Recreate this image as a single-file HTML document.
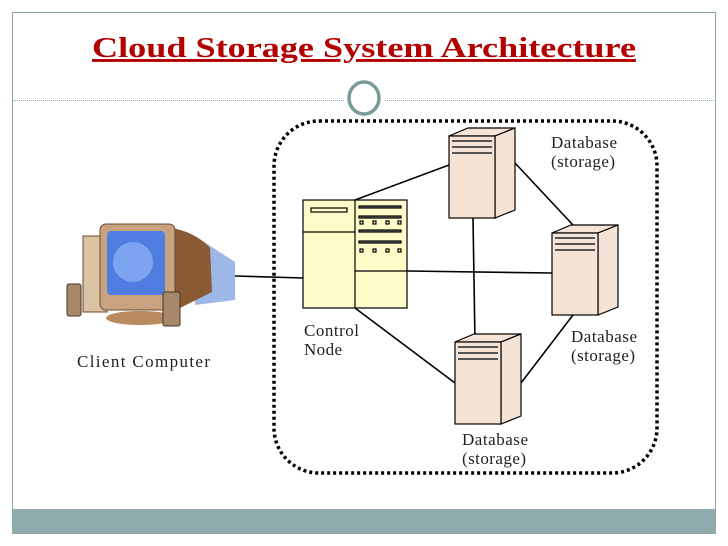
<!DOCTYPE html><html><head><style>body{margin:0;background:#fff}svg{display:block}text{font-family:"Liberation Serif",serif}</style></head><body>
<svg width="728" height="546" viewBox="0 0 728 546">
<rect x="12.5" y="12.5" width="703" height="521" fill="#fff" stroke="#8aa5a5"/>
<rect x="13" y="509" width="702" height="24" fill="#8eacac"/>
<text x="92" y="57" textLength="544" lengthAdjust="spacingAndGlyphs" font-size="29" font-weight="bold" fill="#b30000" text-decoration="underline">Cloud Storage System Architecture</text>
<line x1="13" y1="100.5" x2="344" y2="100.5" stroke="#8aa5a5" stroke-dasharray="1,1"/>
<line x1="385" y1="100.5" x2="715" y2="100.5" stroke="#8aa5a5" stroke-dasharray="1,1"/>
<ellipse cx="364" cy="98" rx="15" ry="16" fill="#fff" stroke="#7a9a9a" stroke-width="3.5"/>
<rect x="274" y="121" width="383" height="352" rx="45" fill="none" stroke="#000" stroke-width="3.5" stroke-dasharray="3,3"/>
<g stroke="#000" stroke-width="1.6">
<line x1="235" y1="276" x2="303" y2="278"/>
<line x1="355" y1="200" x2="449" y2="165"/>
<line x1="407" y1="271" x2="552" y2="273"/>
<line x1="355" y1="308" x2="455" y2="383"/>
<line x1="473" y1="218" x2="475" y2="342"/>
<line x1="515" y1="163" x2="573" y2="225"/>
<line x1="573" y1="315" x2="521" y2="383"/>
</g>
<g stroke="#000" stroke-width="1.2" fill="#fdfbc8">
<rect x="303" y="200" width="104" height="108"/>
<line x1="355" y1="200" x2="355" y2="308"/>
<line x1="303" y1="232" x2="355" y2="232"/>
<line x1="355" y1="271" x2="407" y2="271"/>
<rect x="311" y="208" width="36" height="4"/>
<rect x="359" y="206" width="42" height="2" fill="#777"/>
<rect x="359" y="216" width="42" height="2" fill="#777"/>
<rect x="359" y="230" width="42" height="2" fill="#777"/>
<rect x="359" y="241" width="42" height="2" fill="#777"/>
<rect x="360" y="221" width="3" height="3"/><rect x="373" y="221" width="3" height="3"/><rect x="386" y="221" width="3" height="3"/><rect x="398" y="221" width="3" height="3"/>
<rect x="360" y="249" width="3" height="3"/><rect x="373" y="249" width="3" height="3"/><rect x="386" y="249" width="3" height="3"/><rect x="398" y="249" width="3" height="3"/>
</g>
<g id="s" stroke="#000" stroke-width="1.2" fill="#f5e4d6">
<polygon points="449,136 495,136 515,128 468,128"/>
<polygon points="495,136 515,128 515,210 495,218"/>
<rect x="449" y="136" width="46" height="82"/>
<g fill="#555" stroke="none"><rect x="452" y="140" width="40" height="2"/><rect x="452" y="146" width="40" height="2"/><rect x="452" y="152" width="40" height="2"/></g>
</g>
<use href="#s" x="103" y="97"/>
<use href="#s" x="6" y="206"/>
<g>
<path d="M195 236 L235 262 L235 300 L195 305 Z" fill="#9db8e6"/>
<rect x="83" y="236" width="24" height="76" fill="#d9c3a3" stroke="#6b4a2a"/>
<path d="M150 226 Q190 226 210 248 L212 292 L180 308 L150 308 Z" fill="#8a5a35"/>
<rect x="100" y="224" width="75" height="86" rx="6" fill="#c9a27f" stroke="#6b4a2a"/>
<rect x="107" y="231" width="58" height="64" rx="4" fill="#4f7de0"/>
<ellipse cx="133" cy="262" rx="20" ry="20" fill="#7ca4f0"/>
<ellipse cx="140" cy="318" rx="34" ry="7" fill="#b98a60"/>
<rect x="67" y="284" width="14" height="32" rx="2" fill="#a8886a" stroke="#4a3420"/>
<rect x="163" y="292" width="17" height="34" rx="2" fill="#a8886a" stroke="#4a3420"/>
</g>
<g font-size="17" fill="#222" lengthAdjust="spacingAndGlyphs">
<text x="77" y="367" textLength="133">Client Computer</text>
<text x="304" y="336" textLength="55">Control</text><text x="304" y="355" textLength="38">Node</text>
<text x="551" y="148" textLength="66">Database</text><text x="551" y="167" textLength="64">(storage)</text>
<text x="571" y="342" textLength="66">Database</text><text x="571" y="361" textLength="64">(storage)</text>
<text x="462" y="445" textLength="66">Database</text><text x="462" y="464" textLength="64">(storage)</text>
</g>
</svg></body></html>
